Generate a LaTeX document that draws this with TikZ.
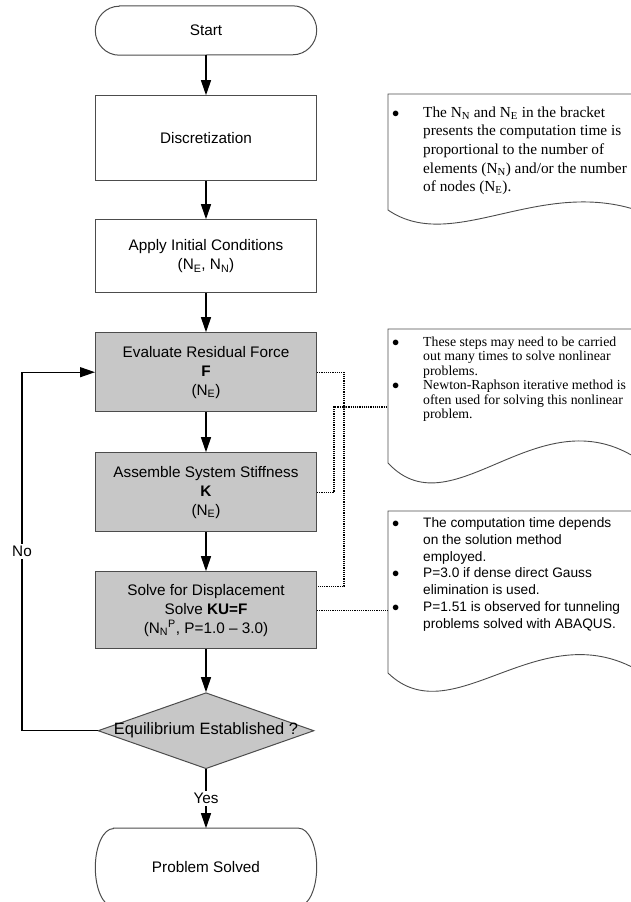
\documentclass[tikz,border=0pt]{standalone}
\usepackage{fontspec}
\setmainfont{Liberation Sans}
\newfontfamily\serifnote{Liberation Serif}
\usetikzlibrary{arrows.meta,positioning,calc,shapes.geometric}
\definecolor{boxgrey}{gray}{0.78}
\definecolor{edgegrey}{gray}{0.3}

\begin{document}
\begin{tikzpicture}[x=1pt,y=-1pt,node distance=39pt]

\tikzset{termnode/.style={rectangle,minimum width=221pt,inner sep=0pt,font=\fontsize{15.3}{19}\selectfont},
termline/.style={draw=edgegrey,line width=1pt},
stepbox/.style={rectangle,draw=edgegrey,line width=1pt,minimum width=221pt,inner sep=0pt,align=center,font=\fontsize{15.3}{19}\selectfont},
greybox/.style={stepbox,fill=boxgrey},
checknode/.style={diamond,draw=edgegrey,fill=boxgrey,line width=1pt,minimum width=216pt,minimum height=76pt,inner sep=0pt,font=\fontsize{16.4}{19}\selectfont},
flow/.style={-{Triangle[length=15pt,width=10pt]},line width=1.2pt},
link/.style={densely dotted,line width=1.2pt},
noteline/.style={draw=edgegrey,line width=0.9pt},
notetext/.style={anchor=north west,inner sep=0pt},
lbl/.style={fill=white,inner sep=2pt,font=\fontsize{15.3}{19}\selectfont}}

% Frame
\useasboundingbox (0,0) rectangle (631,902);
\clip (0,0) rectangle (631,902);

% Main steps
\node[termnode,minimum height=49pt] (start) at (206,30.5) {Start};
\node[stepbox,minimum height=85pt,below=40pt of start] (disc) {Discretization};
\node[stepbox,minimum height=73pt,below=38pt of disc] (init) {Apply Initial Conditions\\(N\textsubscript{E}, N\textsubscript{N})};
\node[greybox,minimum height=79pt,below=of init] (resid) {Evaluate Residual Force\\\textbf{F}\\(N\textsubscript{E})};
\node[greybox,minimum height=79pt,below=40pt of resid] (stiff) {Assemble System Stiffness\\\textbf{K}\\(N\textsubscript{E})};
\node[greybox,minimum height=77pt,below=of stiff] (solve) {Solve for Displacement\\Solve \textbf{KU=F}\\(N\textsubscript{N}\textsuperscript{P}, P=1.0 \textendash{} 3.0)};
\node[checknode,below=43pt of solve] (check) {\makebox[0pt]{Equilibrium Established ?}};
\node[termnode,minimum height=78pt,below=59pt of check] (done) {Problem Solved};

% Terminal outlines (oval ends)
\foreach \t/\rx/\ry in {start/24/24.5,done/18/39}
  \draw[termline] ([xshift=\rx pt]\t.north west) -- ([xshift=-\rx pt]\t.north east)
    arc[start angle=90,end angle=-90,x radius=\rx pt,y radius=\ry pt]
    -- ([xshift=\rx pt]\t.south west)
    arc[start angle=270,end angle=90,x radius=\rx pt,y radius=\ry pt] -- cycle;

% Flow arrows
\foreach \a/\b in {start/disc,disc/init,init/resid,resid/stiff,stiff/solve,solve/check}
  \draw[flow] (\a) -- (\b);
\draw[flow] (check) -- node[lbl] (yeslbl) {Yes} (done);

% Loop back
\coordinate (loopb) at (22,725);
\draw[flow] (check.west) -- (check.west -| loopb) -- node[lbl] (nolbl) {No} (resid.west -| loopb) -- (resid.west);

% Notes
\foreach \nm/\ytop/\ybot/\da/\db in {n1/94/210/46/39,n2/329/463/72/81,n3/511/673/65/70}
  \draw[noteline] (388,\ytop) coordinate (\nm) -- (650,\ytop) -- (650,\ybot+5) .. controls (545,\ybot-\db) and (455,\ybot+\da) .. (388,\ybot) -- cycle;

\node[notetext] (note1) at (392,104) {\serifnote\fontsize{15.3}{18.6}\selectfont
\begin{tabular}{@{}p{31pt}@{}l@{}}
$\bullet$ & The N\textsubscript{N} and N\textsubscript{E} in the bracket\\
& presents the computation time is\\
& proportional to the number of\\
& elements (N\textsubscript{N}) and/or the number\\
& of nodes (N\textsubscript{E}).
\end{tabular}};
\node[notetext] (note2) at (392,336) {\serifnote\fontsize{13.8}{14.5}\selectfont
\begin{tabular}{@{}p{31pt}@{}l@{}}
$\bullet$ & These steps may need to be carried\\
& out many times to solve nonlinear\\
& problems.\\
$\bullet$ & Newton-Raphson iterative method is\\
& often used for solving this nonlinear\\
& problem.
\end{tabular}};
\node[notetext] (note3) at (392,516) {\fontsize{13.7}{16.7}\selectfont
\begin{tabular}{@{}p{31pt}@{}l@{}}
$\bullet$ & The computation time depends\\
& on the solution method\\
& employed.\\
$\bullet$ & P=3.0 if dense direct Gauss\\
& elimination is used.\\
$\bullet$ & P=1.51 is observed for tunneling\\
& problems solved with ABAQUS.
\end{tabular}};

% Dotted links
\coordinate (bus) at (344,0);
\coordinate (tap) at ($(solve.north east)+(0,15)$);
\coordinate (pin2) at (388,407);
\draw[link] (resid.east) -- (resid.east -| bus) -- (tap -| bus) -- (tap);
\draw[link] (stiff.east) -- ++(17,0) |- (pin2);
\fill (bus |- pin2) circle (1.8pt);
\draw[link] (solve.east) -- (solve.east -| n3);

\end{tikzpicture}
\end{document}
